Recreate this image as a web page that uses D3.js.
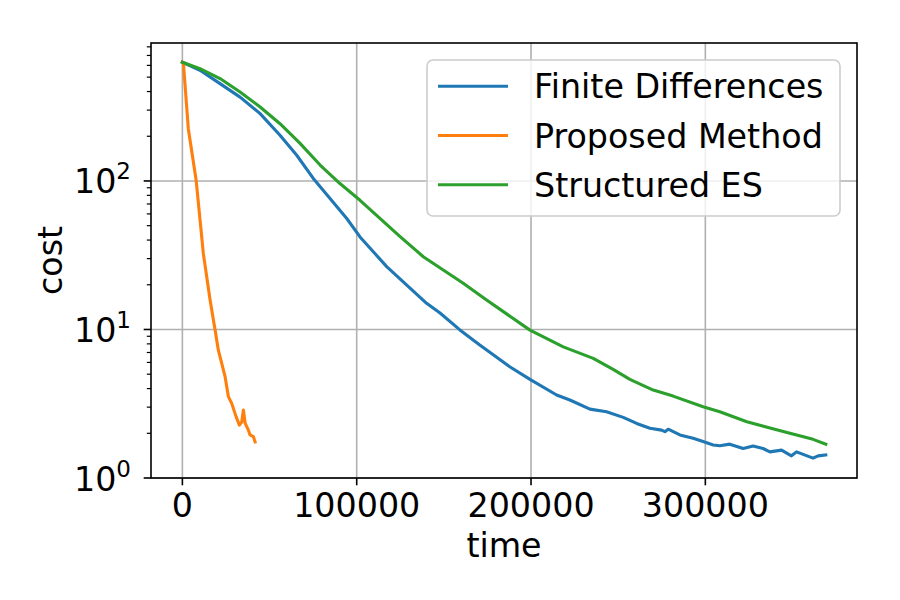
<!DOCTYPE html>
<html>
<head>
<meta charset="utf-8">
<script src="https://cdn.jsdelivr.net/npm/d3@7"></script>
<style>
  body { margin: 0; background: #fff; }
  svg text { font-family: "DejaVu Sans", sans-serif; fill: #000; }
</style>
</head>
<body>
<div id="chart"></div>
<script>
// Series data (time, cost)
const seriesNames = ["Finite Differences", "Proposed Method", "Structured ES"];
const seriesColors = ["#1f77b4", "#ff7f0e", "#2ca02c"];

const finiteTime = [0, 10100, 21600, 33100, 44600, 56000, 65600, 75100, 84700, 94300, 101900, 117200, 140100,
  147800, 159200, 170600, 187800, 199400, 214700, 222300, 233800, 243300, 252900, 260600, 268200, 274900,
  276800, 278700, 285400, 293000, 298700, 304500, 308300, 314000, 321700, 327400, 333100, 337000, 343700,
  349400, 352300, 361800, 364700, 369100];
const finiteCost = [630, 556, 452, 367, 284, 203, 149, 104, 76.2, 55.9, 42.0, 26.5, 15.0,
  12.9, 9.93, 7.85, 5.61, 4.61, 3.62, 3.35, 2.91, 2.79, 2.56, 2.33, 2.16, 2.10,
  2.05, 2.13, 1.95, 1.85, 1.76, 1.67, 1.65, 1.69, 1.58, 1.64, 1.58, 1.50, 1.54,
  1.41, 1.50, 1.36, 1.41, 1.43];

const proposedTime = [0, 600, 3400, 7900, 10700, 12000, 15900, 17800, 18800, 20600, 24500, 26400, 28300,
  30800, 32700, 34100, 35000, 36000, 37800, 38800, 40700, 41700];
const proposedCost = [630, 621, 225, 101, 46.8, 32.6, 15.8, 11.6, 9.9, 7.28, 4.81, 3.53, 3.18,
  2.59, 2.27, 2.39, 2.87, 2.34, 2.11, 1.95, 1.90, 1.75];

const structuredTime = [0, 10100, 21600, 33100, 44600, 56000, 67500, 79000, 90400, 101900, 124900, 138200,
  161100, 174500, 199400, 218500, 235700, 247100, 256700, 270100, 281500, 298700, 308300, 323800, 348500,
  361800, 369100];
const structuredCost = [630, 570, 489, 397, 315, 243, 179, 128, 96.1, 74.1, 42.2, 30.9,
  20.5, 15.8, 9.9, 7.64, 6.39, 5.39, 4.61, 3.91, 3.56, 3.02, 2.79, 2.39, 2.00,
  1.82, 1.69];

const xTicks = [0, 100000, 200000, 300000];
const yMajor = [1, 10, 100];
const yExponents = ["0", "1", "2"];

const width = 900;
const height = 600;
const plotLeft = 151, plotRight = 857, plotTop = 43, plotBottom = 478;
const fontSize = 33.3;

const svg = d3.select("#chart").append("svg")
    .attr("width", width)
    .attr("height", height);

const x = d3.scaleLinear().domain([-18000, 387000]).range([plotLeft, plotRight]);
const y = d3.scaleLog().domain([1, 849]).range([plotBottom, plotTop]);

// grid
svg.append("g").selectAll("line").data(xTicks).enter().append("line")
    .attr("x1", d => x(d)).attr("x2", d => x(d))
    .attr("y1", plotTop).attr("y2", plotBottom)
    .attr("stroke", "#b0b0b0").attr("stroke-width", 1.6);
svg.append("g").selectAll("line").data(yMajor).enter().append("line")
    .attr("x1", plotLeft).attr("x2", plotRight)
    .attr("y1", d => y(d)).attr("y2", d => y(d))
    .attr("stroke", "#b0b0b0").attr("stroke-width", 1.6);

// lines
const allSeries = [
  finiteTime.map((t, i) => [t, finiteCost[i]]),
  proposedTime.map((t, i) => [t, proposedCost[i]]),
  structuredTime.map((t, i) => [t, structuredCost[i]])
];
const line = d3.line().x(d => x(d[0])).y(d => y(d[1]));

svg.append("defs").append("clipPath").attr("id", "clip")
  .append("rect").attr("x", plotLeft).attr("y", plotTop)
  .attr("width", plotRight - plotLeft).attr("height", plotBottom - plotTop);

svg.append("g").attr("clip-path", "url(#clip)")
  .selectAll("path").data(allSeries).enter().append("path")
    .attr("d", line)
    .attr("fill", "none")
    .attr("stroke", (d, i) => seriesColors[i])
    .attr("stroke-width", 3.1)
    .attr("stroke-linejoin", "round")
    .attr("stroke-linecap", "square");

// x axis ticks + labels
const xg = svg.append("g");
xg.selectAll("line").data(xTicks).enter().append("line")
    .attr("x1", d => x(d)).attr("x2", d => x(d))
    .attr("y1", plotBottom).attr("y2", plotBottom + 7.3)
    .attr("stroke", "#000").attr("stroke-width", 1.6);
xg.selectAll("text").data(xTicks).enter().append("text")
    .attr("x", d => x(d)).attr("y", 517)
    .attr("text-anchor", "middle")
    .style("font-size", fontSize + "px")
    .text(d => d3.format("d")(d));

// y axis ticks
const minor = [];
[1, 10, 100].forEach(b => { for (let k = 2; k <= 9; k++) if (b * k <= 849) minor.push(b * k); });
const yg = svg.append("g");
yg.selectAll("line.minor").data(minor).enter().append("line")
    .attr("class", "minor")
    .attr("x1", plotLeft - 4.2).attr("x2", plotLeft)
    .attr("y1", d => y(d)).attr("y2", d => y(d))
    .attr("stroke", "#000").attr("stroke-width", 1.2);
yg.selectAll("line.major").data(yMajor).enter().append("line")
    .attr("class", "major")
    .attr("x1", plotLeft - 7.3).attr("x2", plotLeft)
    .attr("y1", d => y(d)).attr("y2", d => y(d))
    .attr("stroke", "#000").attr("stroke-width", 1.6);
const ylab = yg.selectAll("text").data(yMajor).enter().append("text")
    .attr("x", 131).attr("y", d => y(d) + 12.5)
    .attr("text-anchor", "end")
    .style("font-size", fontSize + "px");
ylab.append("tspan").text("10");
ylab.append("tspan").attr("dy", -14).style("font-size", "23px").text((d, i) => yExponents[i]);

// spines
svg.append("rect")
    .attr("x", plotLeft).attr("y", plotTop)
    .attr("width", plotRight - plotLeft).attr("height", plotBottom - plotTop)
    .attr("fill", "none").attr("stroke", "#000").attr("stroke-width", 1.6);

// axis labels
svg.append("text")
    .attr("x", (plotLeft + plotRight) / 2).attr("y", 557)
    .attr("text-anchor", "middle")
    .style("font-size", fontSize + "px")
    .text("time");
svg.append("text")
    .attr("transform", `translate(61.5,${(plotTop + plotBottom) / 2}) rotate(-90)`)
    .attr("text-anchor", "middle")
    .style("font-size", fontSize + "px")
    .text("cost");

// legend
const legend = svg.append("g");
legend.append("rect")
    .attr("x", 427).attr("y", 60)
    .attr("width", 413).attr("height", 156)
    .attr("rx", 6).attr("ry", 6)
    .attr("fill", "#fff").attr("fill-opacity", 0.8)
    .attr("stroke", "#cccccc").attr("stroke-width", 1.6);
const entries = legend.selectAll("g.entry").data(seriesNames).enter().append("g")
    .attr("class", "entry")
    .attr("transform", (d, i) => `translate(0,${86.3 + i * 49.2})`);
entries.append("line")
    .attr("x1", 438).attr("x2", 508)
    .attr("stroke", (d, i) => seriesColors[i])
    .attr("stroke-width", 3.1);
entries.append("text")
    .attr("x", 534).attr("y", 12)
    .style("font-size", fontSize + "px")
    .text(d => d);
</script>
</body>
</html>
